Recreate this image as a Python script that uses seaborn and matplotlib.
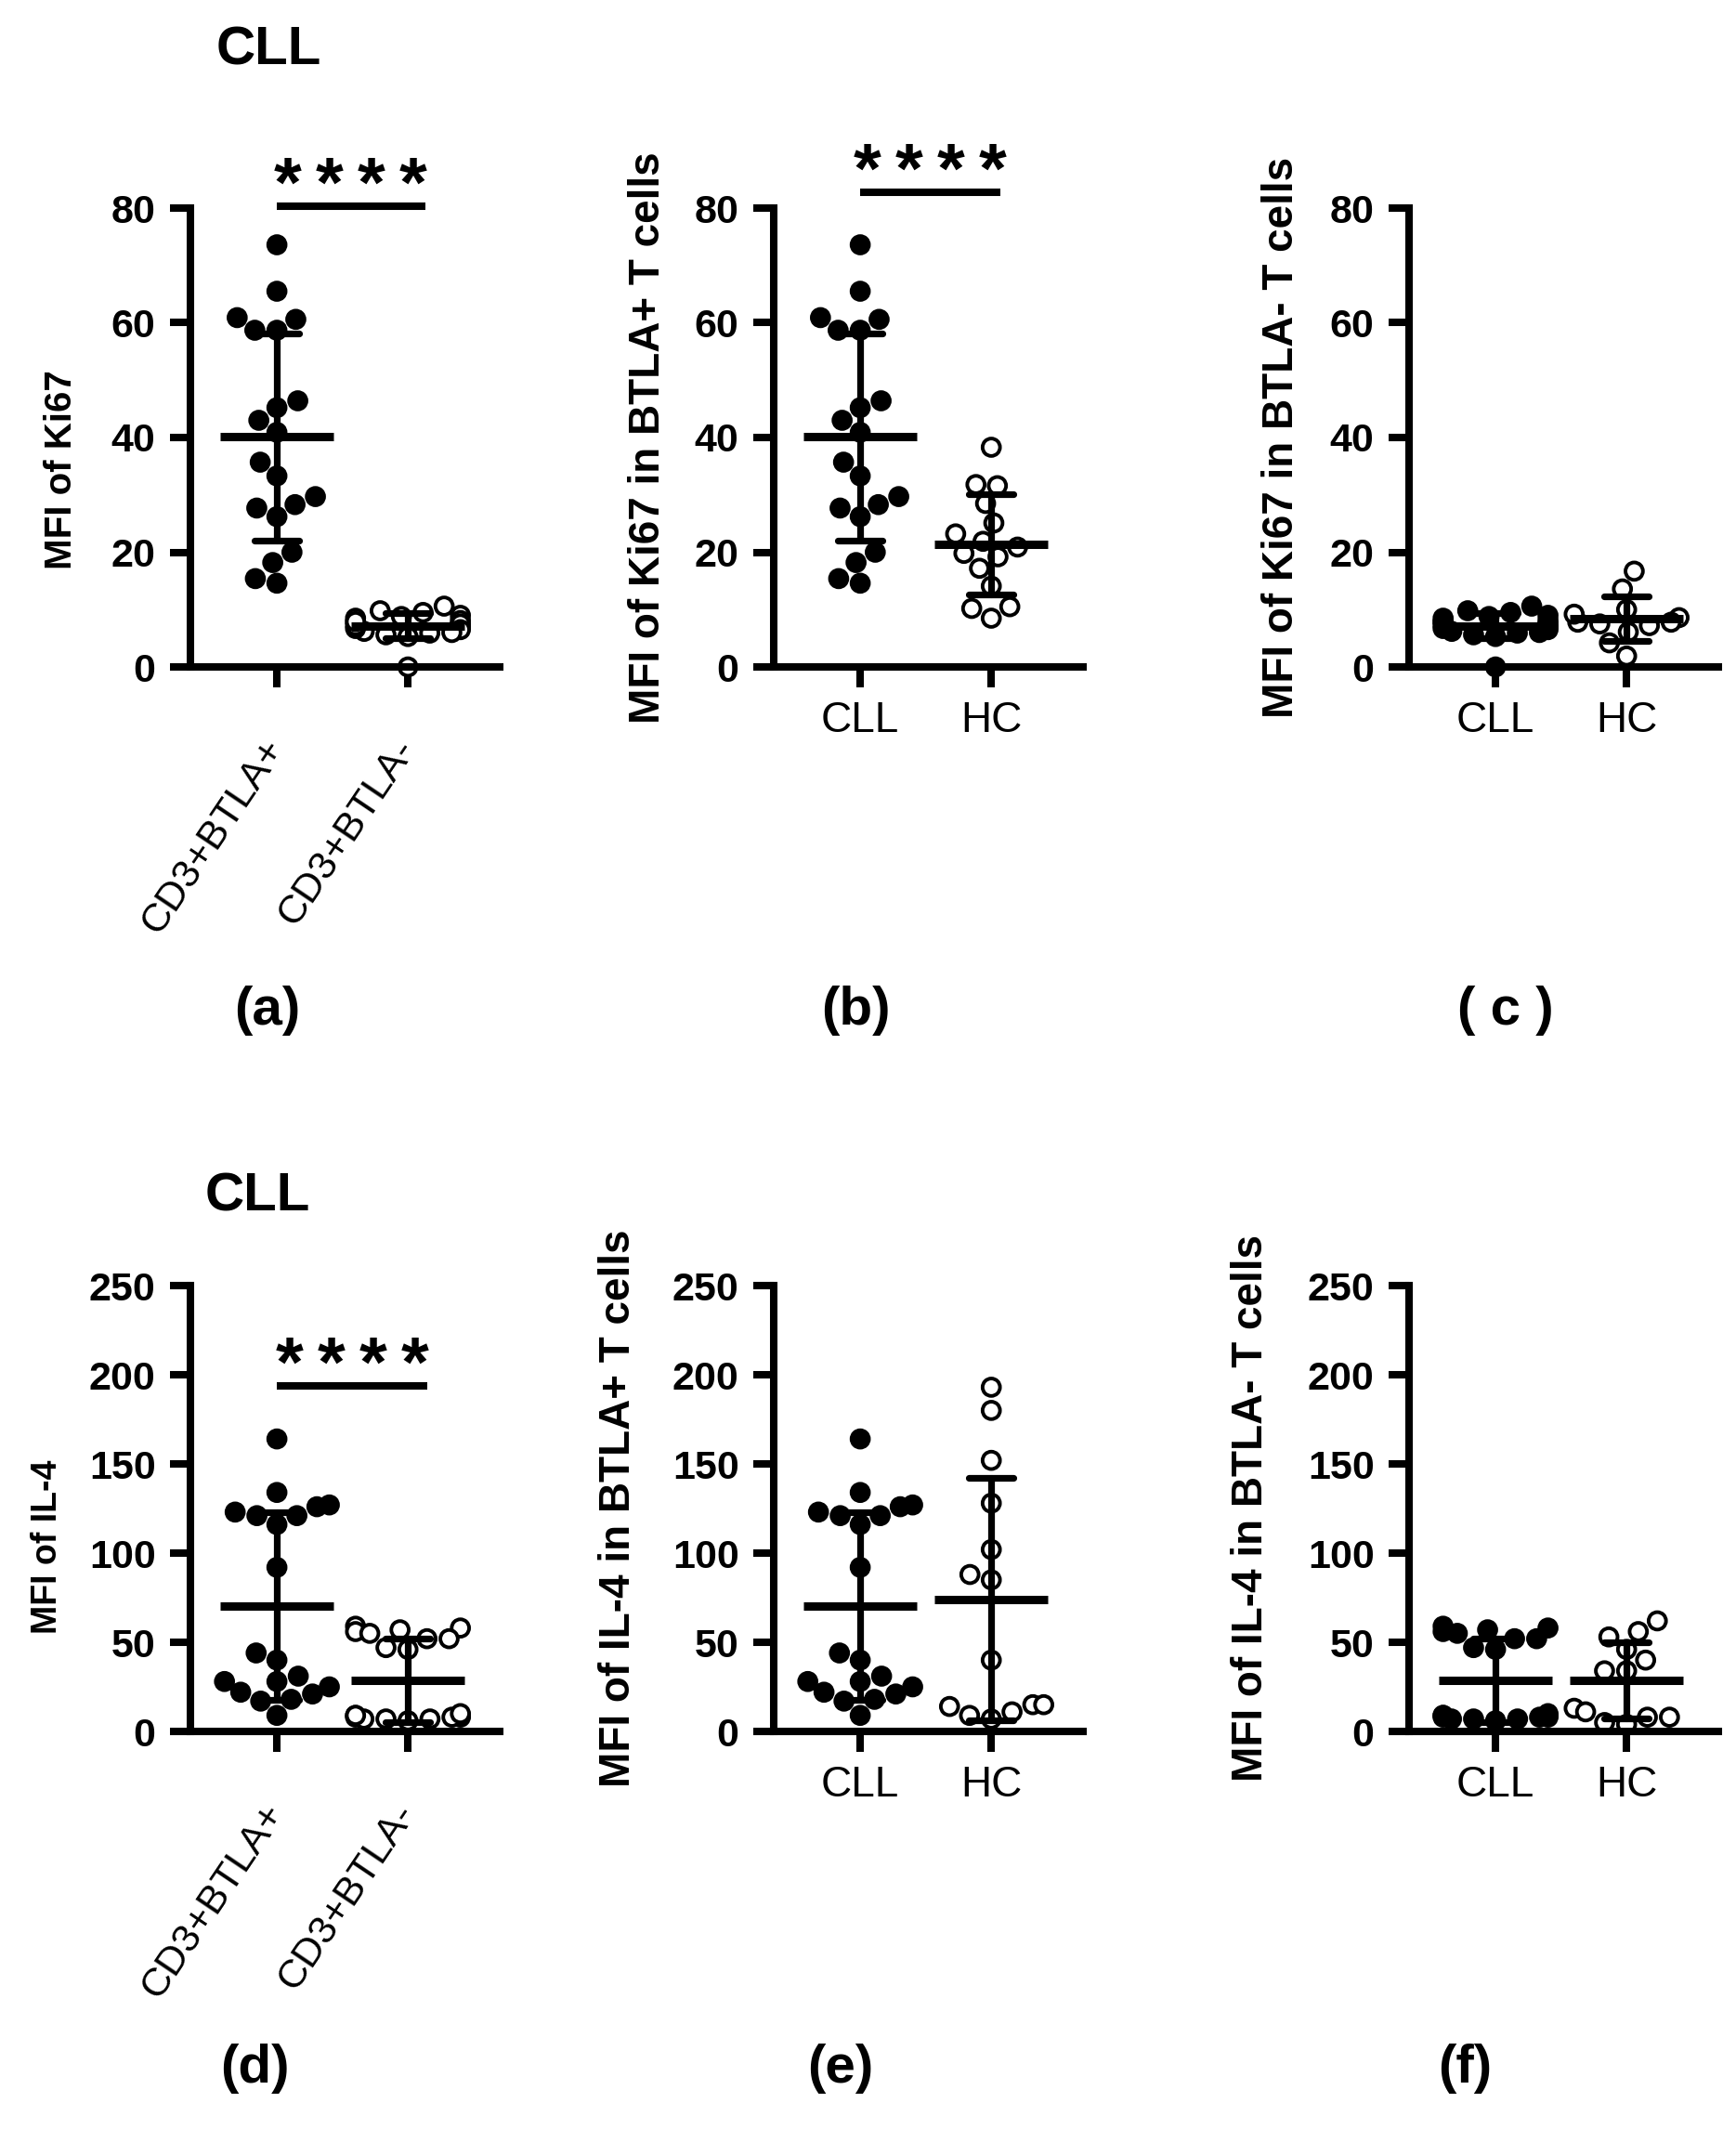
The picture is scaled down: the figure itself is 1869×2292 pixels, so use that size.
import numpy as np
import pandas as pd
import matplotlib
matplotlib.use("Agg")
import matplotlib.pyplot as plt
import seaborn as sns

sns.set_theme(style="ticks")
plt.rcParams['font.family'] = ['Liberation Sans', 'DejaVu Sans']
plt.rcParams.update({'text.color': 'black', 'axes.labelcolor': 'black',
                     'xtick.color': 'black', 'ytick.color': 'black',
                     'axes.edgecolor': 'black'})

# ---- data ----
pair_groups = ['CD3+BTLA+', 'CD3+BTLA-']
cohort_groups = ['CLL', 'HC']

ki67_pos_cll = [73.6, 65.5, 60.9, 60.6, 58.7, 58.7, 46.4, 45.2, 43.0, 40.9,
                35.7, 33.3, 29.7, 28.3, 27.7, 26.2, 20.0, 18.2, 15.4, 14.6]
ki67_neg_cll = [9.0, 10.6, 9.5, 8.1, 7.8, 7.0, 6.2, 5.9, 5.3, 6.7,
                0.0, 8.5, 7.5, 6.5, 7.2, 8.8, 6.0, 7.9, 5.6, 9.8]
ki67_pos_hc = [38.3, 31.8, 31.6, 28.5, 25.1, 23.2, 21.9, 20.9, 19.8, 19.2,
               17.2, 14.1, 10.5, 10.2, 8.5]
ki67_neg_hc = [16.7, 13.6, 10.0, 8.6, 7.8, 7.5, 7.2, 6.1, 7.8, 4.2, 1.9, 9.2]

il4_pos_cll = [164, 134, 126, 127, 123, 121, 121, 116, 92, 44,
               40, 28, 28, 25, 21, 18, 17, 9, 22, 31]
il4_neg_cll = [59, 58, 57, 56, 55, 52, 52, 47, 46, 9,
               8, 8, 7, 9, 8, 7, 10, 9, 7, 6]
il4_pos_hc = [193, 180, 152, 128, 102, 88, 85, 40, 15, 14, 11, 15, 9, 7]
il4_neg_hc = [62, 56, 53, 46, 40, 34, 34, 13, 8, 8, 11, 5, 4]

ki67_ticks = [0, 20, 40, 60, 80]
il4_ticks = [0, 50, 100, 150, 200, 250]

W, H = 1869, 2292


def long_df(groups, values):
    return pd.DataFrame({
        'group': np.repeat(groups, [len(v) for v in values]),
        'value': np.concatenate([np.asarray(v, float) for v in values]),
    })


def draw_panel(ax, groups, values, yticks, ylabel, ylab_size, ylab_x, ylab_y,
               rotate=False, sig=None):
    df = long_df(groups, values)
    pal = {groups[0]: 'black', groups[1]: 'white'}
    sns.swarmplot(data=df, x='group', y='value', hue='group', order=groups,
                  hue_order=groups, palette=pal, edgecolor='black',
                  linewidth=2.8, size=13.5, legend=False, ax=ax, zorder=1,
                  warn_thresh=1)
    # mean +/- SD
    sns.pointplot(data=df, x='group', y='value', order=groups, errorbar='sd',
                  capsize=0.34, color='black', linestyle='none', marker='_',
                  markersize=88, markeredgewidth=6.5,
                  err_kws={'linewidth': 5.2}, ax=ax)
    for art in list(ax.collections) + list(ax.lines):
        art.set_clip_on(False)

    ax.set_xlim(-0.66, 1.70)
    ax.set_ylim(yticks[0], yticks[-1])
    ax.set_yticks(yticks)
    ax.set_xlabel('')
    ax.set_ylabel('')
    sns.despine(ax=ax)
    for s in ['left', 'bottom']:
        ax.spines[s].set_linewidth(5.8)
        ax.spines[s].set_color('black')
    ax.tick_params(axis='both', length=16, width=5.8, color='black')
    ax.tick_params(axis='y', labelsize=31, pad=11)
    for lab in ax.get_yticklabels():
        lab.set_fontweight('bold')
    if rotate:
        ax.tick_params(axis='x', labelsize=31, pad=42)
        for lab in ax.get_xticklabels():
            lab.set_rotation(56)
            lab.set_ha('right')
            lab.set_va('center')
            lab.set_rotation_mode('anchor')
    else:
        ax.tick_params(axis='x', labelsize=33, pad=10)

    if rotate:
        fam = ['Liberation Sans Narrow', 'Liberation Sans', 'DejaVu Sans']
    else:
        fam = ['Liberation Sans', 'DejaVu Sans']
    ax.text(ylab_x, ylab_y, ylabel, transform=ax.transAxes, rotation=90,
            ha='center', va='center', fontsize=ylab_size, fontweight='bold',
            family=fam)

    if sig is not None:
        x0, x1, yb = sig
        ax.plot([x0, x1], [yb, yb], color='black', lw=5.8,
                solid_capstyle='butt', clip_on=False)
        ax.text((x0 + x1) / 2, yb, '*\u2009*\u2009*\u2009*', ha='center',
                va='baseline', fontsize=55, fontweight='bold')


fig = plt.figure(figsize=(W / 100, H / 100), dpi=100)

lefts = [205, 833, 1517]
ax_w = 333


def add_axes(left_px, top_px, bottom_px):
    return fig.add_axes([left_px / W, 1 - bottom_px / H, ax_w / W,
                         (bottom_px - top_px) / H])


ax_a = add_axes(lefts[0], 224, 718)
ax_b = add_axes(lefts[1], 224, 718)
ax_c = add_axes(lefts[2], 224, 718)
ax_d = add_axes(lefts[0], 1384, 1864)
ax_e = add_axes(lefts[1], 1384, 1864)
ax_f = add_axes(lefts[2], 1384, 1864)

draw_panel(ax_a, pair_groups, [ki67_pos_cll, ki67_neg_cll], ki67_ticks,
           'MFI of Ki67', 29, -0.417, 0.43, rotate=True, sig=(0, 1.13, 80.3))
draw_panel(ax_b, cohort_groups, [ki67_pos_cll, ki67_pos_hc], ki67_ticks,
           'MFI of Ki67 in BTLA+ T cells', 33, -0.405, 0.5, sig=(0, 1.07, 82.7))
draw_panel(ax_c, cohort_groups, [ki67_neg_cll, ki67_neg_hc], ki67_ticks,
           'MFI of Ki67 in BTLA- T cells', 33, -0.411, 0.5)
draw_panel(ax_d, pair_groups, [il4_pos_cll, il4_neg_cll], il4_ticks,
           'MFI of IL-4', 27, -0.462, 0.415, rotate=True, sig=(0, 1.15, 194))
draw_panel(ax_e, cohort_groups, [il4_pos_cll, il4_pos_hc], il4_ticks,
           'MFI of IL-4 in BTLA+ T cells', 33, -0.50, 0.5)
draw_panel(ax_f, cohort_groups, [il4_neg_cll, il4_neg_hc], il4_ticks,
           'MFI of IL-4 in BTLA- T cells', 33, -0.51, 0.5)

# titles and panel letters
fig.text(289 / W, 1 - 54 / H, 'CLL', ha='center', va='center',
         fontsize=42, fontweight='bold')
fig.text(277 / W, 1 - 1289 / H, 'CLL', ha='center', va='center',
         fontsize=42, fontweight='bold')
for lab, xp, yp in [('(a)', 288, 1088), ('(b)', 921, 1088), ('( c )', 1621, 1088),
                    ('(d)', 274, 2227), ('(e)', 905, 2227), ('(f)', 1577, 2227)]:
    fig.text(xp / W, 1 - yp / H, lab, ha='center', va='center',
             fontsize=42, fontweight='bold')

fig.savefig('out.png', dpi=100, facecolor='white')
